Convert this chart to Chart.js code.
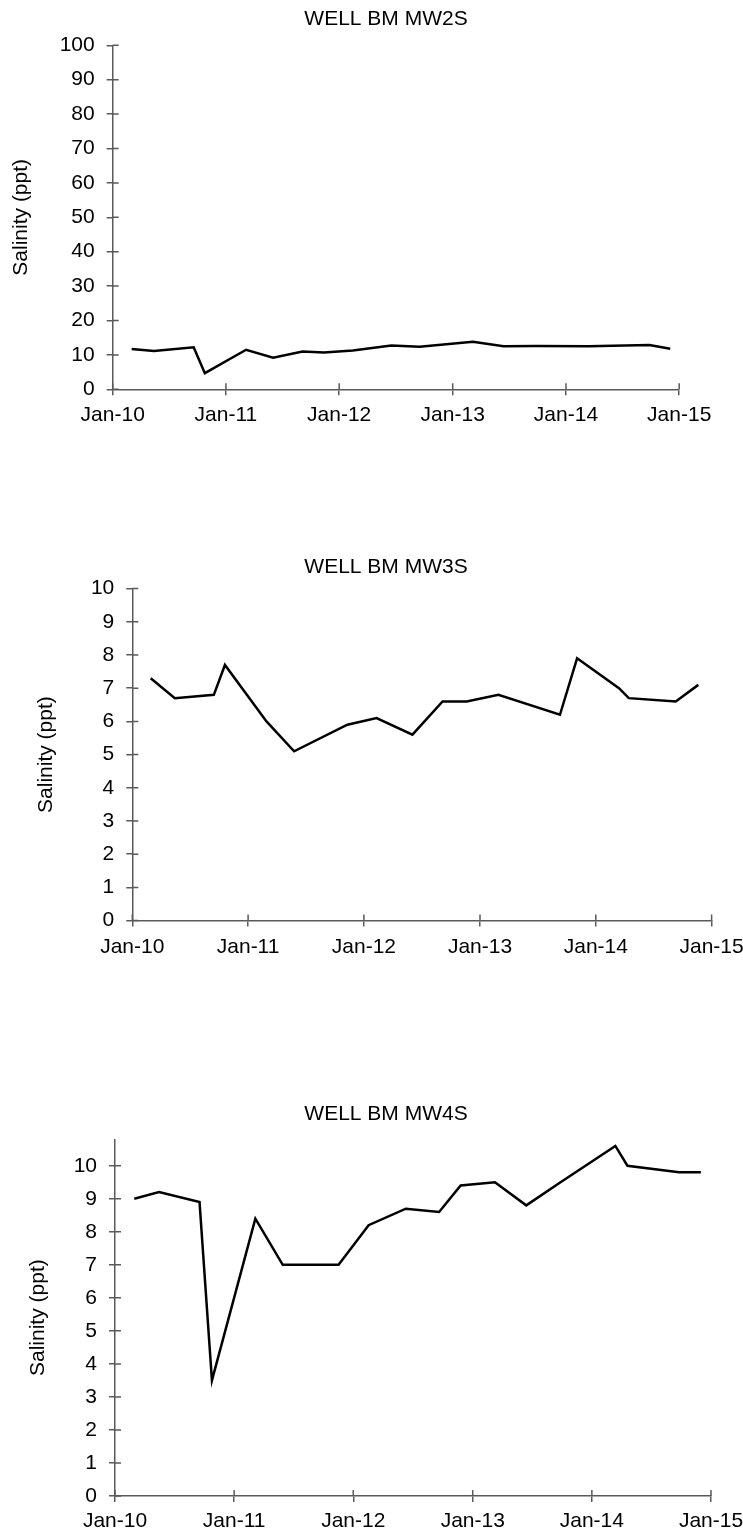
<!DOCTYPE html>
<html lang="en">
  <head>
    <meta charset="UTF-8" />
    <meta name="viewport" content="width=device-width, initial-scale=1.0" />
    <title>Well salinity</title>
    <style>
      body { margin: 0; background: #fff; overflow: hidden; }
      .well { position: absolute; left: 0; }
    </style>
  </head>

  <body>
    <canvas id="mw2s" class="well" width="800" height="430" style="top: 0px"></canvas>
    <canvas id="mw3s" class="well" width="800" height="425" style="top: 540px"></canvas>
    <canvas id="mw4s" class="well" width="800" height="435" style="top: 1100px"></canvas>

    <!-- chart.js -->
    <script src="https://cdn.jsdelivr.net/npm/chart.js"></script>
    <script>
      // x axis labels, one per January from 2010 to 2015
      const yearTicks = ['Jan-10', 'Jan-11', 'Jan-12', 'Jan-13', 'Jan-14', 'Jan-15'];

      // WELL BM MW2S
      const mw2sDates = ['2010-03-03', '2010-05-14', '2010-09-19', '2010-10-25', '2011-03-07', '2011-06-02',
        '2011-09-05', '2011-11-13', '2012-02-14', '2012-06-17', '2012-09-16', '2013-03-07', '2013-06-14',
        '2013-09-25', '2014-03-15', '2014-09-27', '2014-12-03'];
      const mw2sSalinity = [11.7, 11.1, 12.2, 4.7, 11.5, 9.2, 11.0, 10.7, 11.3, 12.7, 12.4, 13.8, 12.5,
        12.6, 12.5, 12.9, 11.8];

      // WELL BM MW3S
      const mw3sDates = ['2010-02-28', '2010-05-15', '2010-09-15', '2010-10-20', '2011-02-28', '2011-05-26',
        '2011-11-10', '2012-02-10', '2012-06-02', '2012-09-05', '2012-11-20', '2013-02-28', '2013-09-10',
        '2013-11-03', '2014-03-15', '2014-04-15', '2014-09-10', '2014-11-20'];
      const mw3sSalinity = [7.3, 6.7, 6.8, 7.7, 6.0, 5.1, 5.9, 6.1, 5.6, 6.6, 6.6, 6.8, 6.2, 7.9, 7.0, 6.7,
        6.6, 7.1];

      // WELL BM MW4S
      const mw4sDates = ['2010-03-01', '2010-05-16', '2010-09-17', '2010-10-25', '2011-03-07', '2011-05-30',
        '2011-11-17', '2012-02-17', '2012-06-10', '2012-09-20', '2012-11-25', '2013-03-10', '2013-06-14',
        '2013-09-27', '2014-03-14', '2014-04-20', '2014-09-25', '2014-12-01'];
      const mw4sSalinity = [9.0, 9.2, 8.9, 3.5, 8.4, 7.0, 7.0, 8.2, 8.7, 8.6, 9.4, 9.5, 8.8, 9.5, 10.6, 10.0,
        9.8, 9.8];

      const axisColor = '#5a5a5a';
      const textFont = { family: '"Liberation Sans", Arial, sans-serif', size: 21 };
      Chart.defaults.font.family = textFont.family;
      Chart.defaults.color = '#000';

      const janFirst = (i) => Date.UTC(2010 + i, 0, 1);
      const toTime = (d) => Date.parse(d + 'T00:00:00Z');

      // chart heading, centred on the whole figure rather than the plot
      const heading = {
        id: 'heading',
        afterDraw(chart, args, opts) {
          const ctx = chart.ctx;
          ctx.save();
          ctx.font = textFont.size + 'px ' + textFont.family;
          ctx.fillStyle = '#000';
          ctx.textAlign = 'center';
          ctx.textBaseline = 'middle';
          ctx.fillText(opts.text, opts.x, opts.y);
          ctx.restore();
        }
      };

      // tick marks cross the axis line: draw the inner half here
      const innerTicks = {
        id: 'innerTicks',
        afterDraw(chart) {
          const { ctx, scales } = chart;
          const x = scales.x, y = scales.y;
          ctx.save();
          ctx.strokeStyle = axisColor;
          ctx.lineWidth = 1.5;
          ctx.beginPath();
          x.ticks.forEach((t) => {
            const px = x.getPixelForValue(t.value);
            ctx.moveTo(px, x.top);
            ctx.lineTo(px, x.top - 6);
          });
          y.ticks.forEach((t) => {
            const py = y.getPixelForValue(t.value);
            ctx.moveTo(y.right, py);
            ctx.lineTo(y.right + 6, py);
          });
          ctx.stroke();
          ctx.restore();
        }
      };

      function wellChart(id, o) {
        return new Chart(document.getElementById(id), {
          type: 'line',
          data: {
            datasets: [{
              data: o.dates.map((d, i) => ({ x: toTime(d), y: o.values[i] })),
              borderColor: '#000',
              borderWidth: 2.5,
              pointRadius: 0,
              tension: 0,
              fill: false
            }]
          },
          options: {
            responsive: false,
            animation: false,
            layout: { padding: { top: o.top, right: o.right, bottom: 0, left: 0 } },
            plugins: {
              legend: { display: false },
              tooltip: { enabled: false },
              heading: { text: o.title, x: 386, y: o.titleY }
            },
            scales: {
              x: {
                type: 'linear',
                min: janFirst(0),
                max: janFirst(5),
                afterBuildTicks: (scale) => {
                  scale.ticks = yearTicks.map((t, i) => ({ value: janFirst(i) }));
                },
                afterFit: (scale) => { scale.height = o.xHeight; },
                ticks: {
                  callback: (v, i) => yearTicks[i],
                  autoSkip: false,
                  maxRotation: 0,
                  padding: o.xPad,
                  font: textFont,
                  color: '#000'
                },
                grid: { drawOnChartArea: false, tickLength: 6, color: axisColor, lineWidth: 1.5 },
                border: { color: axisColor, width: 1.5 }
              },
              y: {
                min: 0,
                max: o.yMax,
                afterFit: (scale) => { scale.width = o.axisLeft; },
                ticks: { stepSize: o.step, includeBounds: false, padding: 12, font: textFont, color: '#000' },
                title: {
                  display: true,
                  text: 'Salinity (ppt)',
                  font: textFont,
                  color: '#000',
                  padding: { top: o.labelPad, bottom: 0 }
                },
                grid: { drawOnChartArea: false, tickLength: 6, color: axisColor, lineWidth: 1.5 },
                border: { color: axisColor, width: 1.5 }
              }
            }
          },
          plugins: [heading, innerTicks]
        });
      }

      wellChart('mw2s', {
        title: 'WELL BM MW2S', titleY: 19.5,
        dates: mw2sDates, values: mw2sSalinity,
        yMax: 100, step: 10,
        top: 45.3, right: 120.8, xHeight: 40.7, axisLeft: 112.7, xPad: 7, labelPad: 8.4
      });

      wellChart('mw3s', {
        title: 'WELL BM MW3S', titleY: 27,
        dates: mw3sDates, values: mw3sSalinity,
        yMax: 10, step: 1,
        top: 48.6, right: 88.4, xHeight: 44.4, axisLeft: 132.3, xPad: 8, labelPad: 33.4
      });

      wellChart('mw4s', {
        title: 'WELL BM MW4S', titleY: 14.5,
        dates: mw4sDates, values: mw4sSalinity,
        yMax: 10.8, step: 1,
        top: 39.3, right: 89, xHeight: 39, axisLeft: 115, xPad: 6.5, labelPad: 25.4
      });
    </script>
  </body>
</html>
